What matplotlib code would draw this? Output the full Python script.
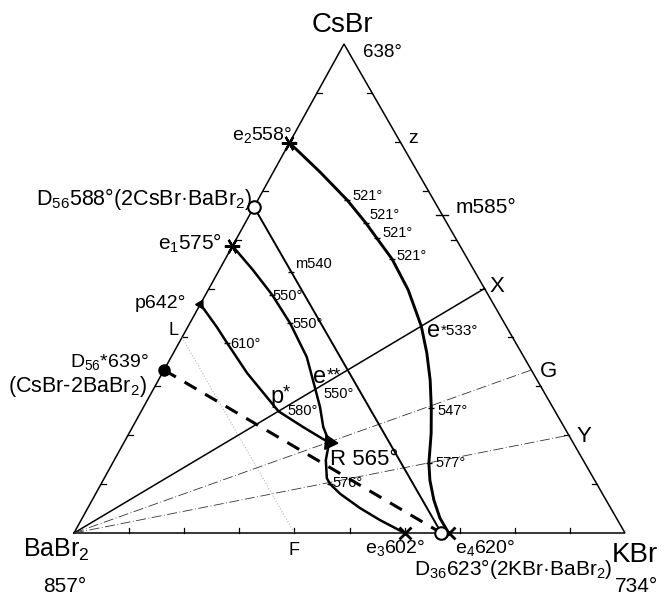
import numpy as np
import matplotlib
matplotlib.use('Agg')
import matplotlib.pyplot as plt

plt.rcParams['font.family'] = ['Liberation Sans', 'DejaVu Sans']
plt.rcParams['mathtext.fontset'] = 'custom'
plt.rcParams['mathtext.rm'] = 'Liberation Sans'
plt.rcParams['mathtext.default'] = 'regular'

# triangle corners on the page (px): BaBr2, KBr, CsBr
P_BA = (74, 533)
P_K = (625, 533)
P_CS = (344, 44)


def tern(a, c):
    # a = mole fraction KBr, c = mole fraction CsBr (rest is BaBr2)
    a = np.asarray(a, float)
    c = np.asarray(c, float)
    x = P_BA[0] + a * (P_K[0] - P_BA[0]) + c * (P_CS[0] - P_BA[0])
    y = P_BA[1] + a * (P_K[1] - P_BA[1]) + c * (P_CS[1] - P_BA[1])
    return x, y


# ---- compositions (KBr, CsBr) ----
# e2 -> e* -> e4
cur1_kbr = [0.0, 0.085, 0.162, 0.219, 0.254, 0.303, 0.363, 0.423, 0.460,
            0.493, 0.523, 0.548, 0.574, 0.593, 0.620, 0.649, 0.680]
cur1_cs = [0.798, 0.738, 0.681, 0.634, 0.603, 0.560, 0.497, 0.423, 0.368,
           0.313, 0.256, 0.2045, 0.143, 0.108, 0.0675, 0.0307, 0.0]
# e1 -> e** -> R
cur2_kbr = [0.0, 0.061, 0.121, 0.182, 0.246, 0.294, 0.320, 0.346, 0.372]
cur2_cs = [0.587, 0.538, 0.487, 0.429, 0.360, 0.294, 0.258, 0.217, 0.186]
# p -> p* -> R
cur3_kbr = [0.0, 0.053, 0.087, 0.154, 0.249, 0.309, 0.358, 0.372]
cur3_cs = [0.468, 0.421, 0.389, 0.327, 0.249, 0.217, 0.192, 0.186]
# R -> e3
cur4_kbr = [0.372, 0.384, 0.404, 0.416, 0.444, 0.494, 0.542, 0.600]
cur4_cs = [0.186, 0.149, 0.112, 0.100, 0.080, 0.051, 0.0266, 0.0]

# compounds and invariant points
D56 = (0.0, 2 / 3)
D56s = (0.0, 1 / 3)
D36 = (2 / 3, 0.0)
e1 = (0.0, 0.587)
e2 = (0.0, 0.798)
e3 = (0.600, 0.0)
e4 = (0.680, 0.0)
p642 = (0.0, 0.468)
R = (0.372, 0.186)

# sections drawn from the BaBr2 corner
X = (0.5, 0.5)
G = (2 / 3, 1 / 3)
Y = (0.8, 0.2)
L = (0.0, 0.4)
F = (0.4, 0.0)

# isotherm marks on the curves
t521 = [(0.162, 0.681), (0.219, 0.634), (0.254, 0.603), (0.303, 0.560)]
t_other = [(0.523, 0.256), (0.574, 0.143), (0.121, 0.487), (0.182, 0.429),
           (0.087, 0.389), (0.416, 0.100), (0.133, 0.533)]

ticks = np.arange(1, 10) / 10

fig = plt.figure(figsize=(6.68, 5.96), dpi=100)
ax = fig.add_axes([0, 0, 1, 1])
ax.set_xlim(0, 668)
ax.set_ylim(596, 0)
ax.axis('off')

# triangle
tx, ty = tern([0, 1, 0, 0], [0, 0, 1, 0])
ax.plot(tx, ty, color='k', lw=1.1, solid_joinstyle='miter')

# edge ticks
for t in ticks:
    x, y = tern(0, t)
    ax.plot([x, x + 5], [y, y], color='k', lw=0.9)
    x, y = tern(1 - t, t)
    ax.plot([x, x - 5], [y, y], color='k', lw=0.9)
    x, y = tern(t, 0)
    ax.plot([x, x], [y, y - 5], color='k', lw=0.9)
x, y = tern(0.35, 0.65)
ax.plot([x - 6, x + 6], [y, y], color='k', lw=1.0)

# faint construction line
ax.plot(*tern([L[0], F[0]], [L[1], F[1]]), color='#b8b8b8', lw=0.8, ls=':')

# sections from BaBr2
ax.plot(*tern([0, X[0]], [0, X[1]]), color='k', lw=1.1)
ax.plot(*tern([0, G[0]], [0, G[1]]), color='#333333', lw=0.6, ls=(0, (12, 3, 1, 3)))
ax.plot(*tern([0, Y[0]], [0, Y[1]]), color='#333333', lw=0.6, ls=(0, (12, 3, 1, 3)))

# D56 - D36 join and D56* - D36 dashed join
ax.plot(*tern([D56[0], D36[0]], [D56[1], D36[1]]), color='k', lw=1.4)
ax.plot(*tern([D56s[0], D36[0]], [D56s[1], D36[1]]), color='k', lw=2.2,
        ls=(0, (4.5, 3.3)))

# monovariant curves
ax.plot(*tern(cur1_kbr, cur1_cs), color='k', lw=2.1)
ax.plot(*tern(cur2_kbr, cur2_cs), color='k', lw=1.8)
ax.plot(*tern(cur3_kbr, cur3_cs), color='k', lw=1.8)
ax.plot(*tern(cur4_kbr, cur4_cs), color='k', lw=1.8)

# isotherm ticks
for a, c in t521 + t_other:
    ax.plot(*tern(a, c), marker='_', ms=5, mew=1.0, color='k')

# points
ax.plot(*tern(*e2), marker=(6, 2, 90), ms=11, mew=1.6, color='k')
ax.plot(*tern(*e1), marker=(6, 2, 90), ms=11, mew=1.6, color='k')
ax.plot(*tern(*e3), marker='x', ms=9, mew=2.0, color='k')
ax.plot(*tern(*e4), marker='x', ms=9, mew=2.0, color='k')
ax.plot(*tern(*D56), marker='o', ms=9, mfc='white', mec='k', mew=1.5)
ax.plot(*tern(*D36), marker='o', ms=9, mfc='white', mec='k', mew=1.5)
ax.plot(*tern(*D56s), marker='o', ms=8, color='k')
ax.plot(*tern(*p642), marker=(3, 0, -29), ms=7, color='k')
ax.plot(*tern(*R), marker=(3, 0, -95), ms=12, color='k')

# labels: text, left x, baseline y, size
labels = [
    ("CsBr", 312, 32, 20),
    ("638°", 363, 57, 13.5),
    ("e$_2$558°", 232, 140, 14),
    ("z", 408, 143, 14),
    ("m585°", 456, 213, 15),
    ("X", 490, 292, 16),
    ("G", 540, 377, 16),
    ("Y", 577, 442, 16),
    ("D$_{56}$588°(2CsBr·BaBr$_2$)", 36, 205, 15.5),
    ("e$_1$575°", 158, 250, 15),
    ("p642°", 135, 308, 14),
    ("L", 168, 335, 13),
    ("D$_{56}$*639°", 70, 367, 14),
    ("(CsBr-2BaBr$_2$)", 8, 392, 15.5),
    ("m540", 295, 268, 10.5),
    ("550°", 272, 300, 10.5),
    ("550°", 292, 328, 10.5),
    ("610°", 230, 348, 10.5),
    ("521°", 352, 200, 10.5),
    ("521°", 369, 219, 10.5),
    ("521°", 382, 237, 10.5),
    ("521°", 396, 260, 10.5),
    ("547°", 437, 415, 10.5),
    ("577°", 435, 467, 10.5),
    ("576°", 332, 487, 10.5),
    ("580°", 287, 415, 10.5),
    ("550°", 323, 398, 10.5),
    ("R 565°", 330, 465, 16),
    ("F", 288, 555, 13),
    ("BaBr$_2$", 23, 557, 18),
    ("857°", 43, 592, 15),
    ("KBr", 612, 562, 20),
    ("734°", 615, 592, 15),
    ("e$_3$602°", 365, 553, 14),
    ("e$_4$620°", 455, 553, 14),
    ("D$_{36}$623°(2KBr·BaBr$_2$)", 414, 575, 15),
]
for s, x, y, fs in labels:
    ax.text(x, y, s, fontsize=fs, ha='left', va='baseline')

# big e with small superscript star labels
ax.text(427, 337, "e", fontsize=17, ha='left', va='baseline')
ax.text(441, 335, "*533°", fontsize=11, ha='left', va='baseline')
ax.text(313, 383, "e", fontsize=17, ha='left', va='baseline')
ax.text(327, 380, "**", fontsize=13, ha='left', va='baseline')
ax.text(270, 403, "p", fontsize=17, ha='left', va='baseline')
ax.text(283, 397, "*", fontsize=13, ha='left', va='baseline')

fig.savefig('out.png', dpi=100)
